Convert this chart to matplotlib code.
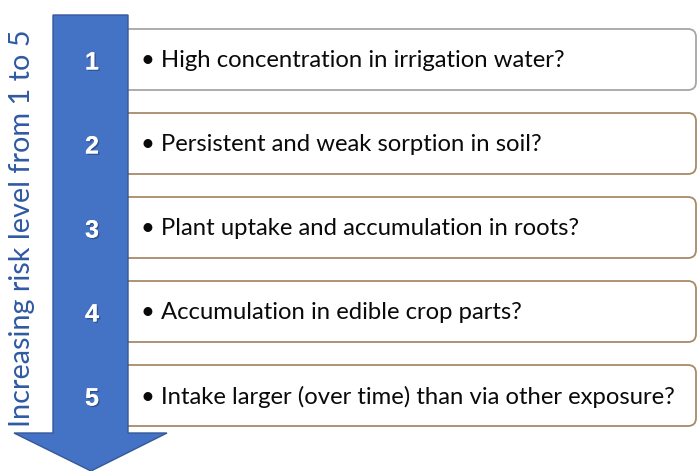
import matplotlib
matplotlib.use("Agg")
import matplotlib.pyplot as plt
from matplotlib.patches import FancyBboxPatch, Polygon
import matplotlib.patheffects as pe

levels = ["1", "2", "3", "4", "5"]
questions = [
    "High concentration in irrigation water?",
    "Persistent and weak sorption in soil?",
    "Plant uptake and accumulation in roots?",
    "Accumulation in edible crop parts?",
    "Intake larger (over time) than via other exposure?",
]
axis_label = "Increasing risk level from 1 to 5"

W, H = 700, 471
fig = plt.figure(figsize=(7, 4.71), dpi=100)
ax = fig.add_axes([0, 0, 1, 1])
ax.set_xlim(0, W)
ax.set_ylim(H, 0)
ax.axis("off")

box_tops = [29, 113, 197, 281, 365]
box_h = 61
edge_cols = ["#a6a6a6", "#a88a68", "#a88a68", "#a88a68", "#a88a68"]
for i, (lv, q) in enumerate(zip(levels, questions)):
    top = box_tops[i]
    b = FancyBboxPatch((110, top), 586, box_h,
                       boxstyle="round,pad=0,rounding_size=8",
                       fc="white", ec=edge_cols[i], lw=1.3, zorder=1)
    ax.add_patch(b)
    ax.text(141, top + box_h / 2 + 1, "\u2022 " + q, fontsize=17.2,
            family=["Lato", "DejaVu Sans"], color="#0a0a0a",
            va="center", ha="left", zorder=3)

# arrow
arrow = Polygon([(53, 15), (128, 15), (128, 433), (167, 433), (91, 471),
                 (14, 433), (53, 433)], closed=True,
                fc="#4472c4", ec="#35589a", lw=1.0, zorder=4)
ax.add_patch(arrow)

for i, lv in enumerate(levels):
    top = box_tops[i]
    ax.text(92, top + box_h / 2 + 3, lv, fontsize=18, fontweight="bold",
            color="white", ha="center", va="center", zorder=5,
            family=["Liberation Sans", "DejaVu Sans"],
            path_effects=[pe.withSimplePatchShadow(offset=(1, -1), shadow_rgbFace="#1f3a6e", alpha=0.6), pe.Normal()])

ax.text(22, 228, axis_label, rotation=90, fontsize=20.8, color="#2f5aa3",
        ha="center", va="center", family=["Lato", "DejaVu Sans"], zorder=5)

fig.savefig("out.png", dpi=100)
